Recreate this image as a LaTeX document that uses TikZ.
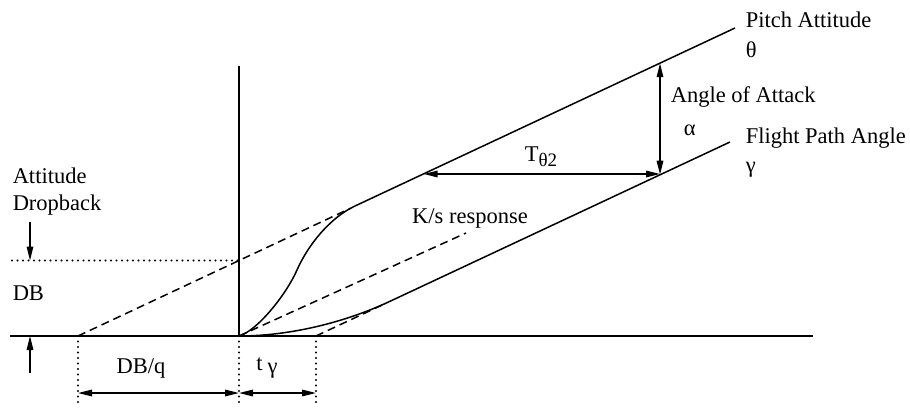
\documentclass[tikz,border=0pt]{standalone}
\usepackage{fontspec}
\setmainfont{Liberation Serif}
\usetikzlibrary{arrows.meta}
\begin{document}
\begin{tikzpicture}[x=1pt,y=-1pt,line width=1.5pt,
  lbl/.style={anchor=west,inner sep=0pt,font=\fontsize{22.5}{26}\selectfont},
  clbl/.style={inner sep=0pt,font=\fontsize{22.5}{26}\selectfont},
  dimarrow/.style={{Triangle[length=14pt,width=6.5pt]}-{Triangle[length=14pt,width=6.5pt]}},
  tiparrow/.style={-{Triangle[length=14pt,width=6.5pt]}},
  dashline/.style={dash pattern=on 8pt off 5pt},
  dotline/.style={line width=2.3pt,dash pattern=on 0pt off 5.5pt,line cap=round}]
\useasboundingbox (0,0) rectangle (910,407);
% key points
\coordinate (O) at (239,336);
\coordinate (Bl) at (10,336);
\coordinate (Br) at (813,336);
\coordinate (Vt) at (239,66);
\coordinate (D) at (78,336);
\coordinate (DBl) at (12,260.5);
\coordinate (DBr) at (239,260.5);
\coordinate (Pdash) at (350,208.5);
\coordinate (Pj) at (355,206);
\coordinate (Pend) at (735,28);
\coordinate (G) at (316,336);
\coordinate (Gdash) at (385,303.7);
\coordinate (Gj) at (390,301.3);
\coordinate (Gend) at (730,142);
\coordinate (Ks) at (466,233);
\coordinate (Tl) at (423.6,174);
\coordinate (Tr) at (660,174);
\coordinate (Au) at (660,63.2);
\coordinate (Ad) at (660,174.7);
\coordinate (Db) at (78,407);
\coordinate (Ob) at (239,407);
\coordinate (Gb) at (316,407);
\coordinate (Aq1) at (78,393);
\coordinate (Aq2) at (239,393);
\coordinate (Aq3) at (316,393);
\coordinate (Dn1) at (30,222);
\coordinate (Dn2) at (30,260.5);
\coordinate (Up1) at (30,373);
\coordinate (Up2) at (30,336);
% axes
\draw (Bl) -- (Br);
\draw (O) -- (Vt);
% asymptotes
\draw[dashline] (D) -- (Pdash);
\draw[dashline] (O) -- (Ks);
\draw[dashline] (G) -- (Gdash);
% solid lines
\draw (Pj) -- (Pend);
\draw (Gj) -- (Gend);
% responses
\draw (O) .. controls (257,331) and (286,295) .. (297,270)
          .. controls (308,245) and (330,217.7) .. (Pj);
\draw (O) .. controls (290,336) and (345,322.4) .. (Gj);
% dotted guides
\draw[dotline] (DBl) -- (DBr);
\draw[dotline] (D) -- (Db);
\draw[dotline] (O) -- (Ob);
\draw[dotline] (G) -- (Gb);
% dimension arrows
\draw[dimarrow] (Aq1) -- (Aq2);
\draw[dimarrow] (Aq2) -- (Aq3);
\draw[dimarrow] (Tl) -- (Tr);
\draw[dimarrow] (Au) -- (Ad);
\draw[tiparrow] (Dn1) -- (Dn2);
\draw[tiparrow] (Up1) -- (Up2);
% labels
\node[lbl] (att) at (12,176) {Attitude};
\node[lbl] (drop) at (12,205) {Dropback};
\node[lbl] (db) at (12,293) {DB};
\node[clbl] (dbq) at (141,368) {DB/q};
\node[clbl] (tg) at (267,368) {t\hspace{5pt}\raisebox{-0.3ex}{γ}};
\node[clbl] (ks) at (470,218) {K/s response};
\node[clbl] (tt) at (541,157) {T\raisebox{-0.45ex}{\fontsize{19}{22}\selectfont θ2}};
\node[lbl] (pa) at (745,20) {Pitch Attitude};
\node[lbl] (th) at (745,50) {θ};
\node[lbl] (aoa) at (670,97) {Angle of Attack};
\node[lbl] (al) at (683,130) {α};
\node[lbl] (fpa) at (745,138) {Flight Path Angle};
\node[lbl] (ga) at (745,170) {γ};
\end{tikzpicture}
\end{document}
